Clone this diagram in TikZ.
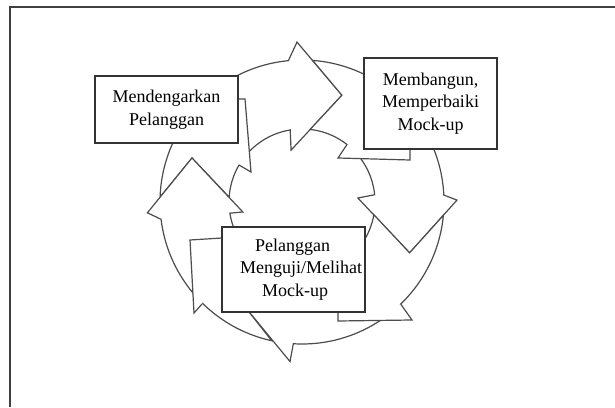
\documentclass[tikz,border=0pt]{standalone}
\usepackage{fontspec}
\setmainfont{Liberation Serif}
\usetikzlibrary{calc}

\begin{document}
\begin{tikzpicture}[x=1pt,y=1pt]

        % Styles
        \tikzstyle{frame line}=[line width=1.5pt,color=black!75]
        \tikzstyle{ring part}=[draw=black!70,fill=white,line width=1.2pt,line join=miter]
        \tikzstyle{tail line}=[draw=black!70,line width=1.2pt]
        \tikzstyle{stage box}=[draw=black!80,fill=white,line width=1.4pt,inner sep=0pt,align=center,font=\fontsize{18}{22.5}\selectfont]
        %The graphic
        \useasboundingbox (0,0) rectangle (615,407);
        \draw[style=frame line] (10,0) -- (10,400) -- (615,400);
        %ring
        \coordinate (C) at (302,205);
        \coordinate (tipA) at ($(C)+(69.5:114pt)$);
        \coordinate (tipB) at ($(C)+(-25.3:119pt)$);
        \coordinate (tipD) at ($(C)+(-119:119pt)$);
        \coordinate (tipC) at ($(C)+(158.2:118.5pt)$);
        \draw[style=ring part] ($(C)+(178:142pt)$) arc[start angle=178,end angle=95.5,radius=142pt]
            -- ($(C)+(91.8:160pt)$) -- (tipA) -- ($(C)+(101.9:53pt)$) -- ($(C)+(99.3:73pt)$)
            arc[start angle=99.3,end angle=176.3,radius=73pt] -- (tipC) -- cycle;
        \draw[style=ring part] ($(C)+(85.7:142pt)$) arc[start angle=85.7,end angle=2.8,radius=142pt]
            -- ($(C)+(0.7:155pt)$) -- (tipB) -- ($(C)+(4.1:56pt)$) -- ($(C)+(5.7:73pt)$)
            arc[start angle=5.7,end angle=83.6,radius=73pt] -- (tipA) -- cycle;
        \draw[style=ring part] ($(C)+(-5.4:142pt)$) arc[start angle=-5.4,end angle=-93.5,radius=142pt]
            -- ($(C)+(-94.3:160pt)$) -- (tipD) -- ($(C)+(-89:56pt)$) -- ($(C)+(-88:73pt)$)
            arc[start angle=-88,end angle=-10.1,radius=73pt] -- (tipB) -- cycle;
        \draw[style=ring part] ($(C)+(-102.3:142pt)$) arc[start angle=-102.3,end angle=-173,radius=142pt]
            -- ($(C)+(-176:155pt)$) -- (tipC) -- ($(C)+(-170.4:60pt)$) -- ($(C)+(-171.2:73pt)$)
            arc[start angle=-171.2,end angle=-103.6,radius=73pt] -- (tipD) -- cycle;
        %tails beside the boxes
        \fill[white] (237,308) -- (245,308) -- (251,235) -- (239,242) -- cycle;
        \draw[style=tail line] (237,308) -- (245,308) -- (251,235) -- (239,242);
        \fill[white] (410,258) -- (410,247) -- (338,249) -- (347,262.5) -- cycle;
        \draw[style=tail line] (410,258) -- (410,247) -- (338,249) -- (347,262.5);
        \fill[white] (338,95) -- (338,86) -- (412,87) -- (400.7,102.9) -- cycle;
        \draw[style=tail line] (338,95) -- (338,86) -- (412,87) -- (400.7,102.9);
        \fill[white] (222,169) -- (190,167) -- (194,94) -- (202,103) -- cycle;
        \draw[style=tail line] (222,169) -- (190,167) -- (194,94) -- (202,103);
        %boxes
        \node[stage box,minimum width=143pt,minimum height=67pt] (dengar) at (166.5,297.5) {Mendengarkan\\Pelanggan};
        \node[stage box,minimum width=133pt,minimum height=91pt] (bangun) at (430.5,303.5) {Membangun,\\Memperbaiki\\Mock-up};
        \node[stage box,minimum width=143pt,minimum height=85pt,align=left] (uji) at (293.5,137.5) {\hspace*{30pt}Pelanggan\\\hspace*{15pt}Menguji/Melihat\\\hspace*{37pt}Mock-up};
\end{tikzpicture}
\end{document}
